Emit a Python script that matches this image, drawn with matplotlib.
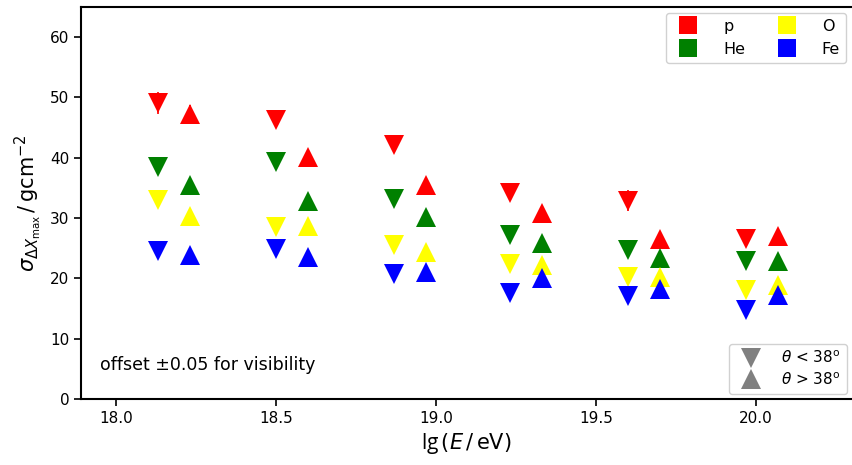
import numpy as np
import matplotlib
matplotlib.use("Agg")
import matplotlib.pyplot as plt
from matplotlib.lines import Line2D

# energy bins lg(E/eV), plotted with offset -0.05 (theta<38) / +0.05 (theta>38)
lgE = np.array([18.18, 18.55, 18.92, 19.28, 19.65, 20.02])
offset = 0.05

primaries = ["p", "He", "O", "Fe"]
colors = ["red", "green", "yellow", "blue"]

# sigma(Xmax) in g/cm^2, theta < 38 deg (down triangles)
sig_low = {
    "p":  [49.1, 46.2, 42.1, 34.1, 32.9, 26.6],
    "He": [38.5, 39.3, 33.1, 27.2, 24.7, 22.9],
    "O":  [33.0, 28.5, 25.5, 22.4, 20.3, 18.1],
    "Fe": [24.5, 24.9, 20.7, 17.6, 17.1, 14.8],
}
# theta > 38 deg (up triangles)
sig_high = {
    "p":  [47.2, 40.1, 35.4, 30.8, 26.5, 27.0],
    "He": [35.4, 32.8, 30.1, 25.8, 23.3, 22.8],
    "O":  [30.3, 28.7, 24.3, 22.2, 20.3, 18.9],
    "Fe": [23.9, 23.5, 21.0, 20.0, 18.2, 17.2],
}
# small statistical errors (mostly hidden behind markers)
err_low = {"p": [1.8, 1.2, 1.2, 1.2, 1.8, 1.2], "He": [1.0] * 6, "O": [1.0] * 6, "Fe": [1.0] * 6}
err_high = {"p": [1.6, 1.2, 1.2, 1.2, 1.2, 1.2], "He": [1.0] * 6, "O": [1.0] * 6, "Fe": [1.0] * 6}

fig = plt.figure(figsize=(8.52, 4.65), dpi=100)
ax = fig.add_axes([0.095, 0.142, 0.905, 0.843])

ms = 14
for prim, col in zip(primaries, colors):
    ax.errorbar(lgE - offset, sig_low[prim], yerr=err_low[prim], fmt="v", color=col,
                ms=ms, mew=0, elinewidth=1.2, capsize=0)
    ax.errorbar(lgE + offset, sig_high[prim], yerr=err_high[prim], fmt="^", color=col,
                ms=ms, mew=0, elinewidth=1.2, capsize=0)

ax.set_xlim(17.89, 20.30)
ax.set_ylim(0, 65)
ax.set_xticks([18.0, 18.5, 19.0, 19.5, 20.0])
ax.set_yticks([0, 10, 20, 30, 40, 50, 60])
ax.tick_params(labelsize=11, length=5, width=1.2)
ax.spines["right"].set_visible(False)
for s in ["left", "bottom", "top"]:
    ax.spines[s].set_linewidth(1.5)

ax.set_xlabel(r"lg$\,(E\,/\,\mathrm{eV})$", fontsize=15, family="Open Sans")
ax.set_ylabel(r"$\sigma_{\Delta X_\mathrm{max}}\,/\,\mathrm{gcm^{-2}}$", fontsize=15)

ax.text(0.025, 0.075, "offset \u00b10.05 for visibility", transform=ax.transAxes, fontsize=12.5)

handles = [Line2D([], [], ls="none", marker="s", ms=13, color=c, mew=0, label=p)
           for p, c in zip(primaries, colors)]
leg1 = ax.legend(handles=handles, ncol=2, loc="upper right", fontsize=11.5,
                 handletextpad=1.2, columnspacing=1.6, borderaxespad=0.35, framealpha=0.9)
ax.add_artist(leg1)

thandles = [Line2D([], [], ls="none", marker="v", ms=14, color="grey", mew=0,
                   label=r"$\theta$ < 38$^\mathrm{o}$"),
            Line2D([], [], ls="none", marker="^", ms=14, color="grey", mew=0,
                   label=r"$\theta$ > 38$^\mathrm{o}$")]
ax.legend(handles=thandles, loc="lower right", fontsize=11, handletextpad=1.0,
          borderaxespad=0.35, labelspacing=0.3, framealpha=0.9)

fig.savefig("out.png", dpi=100)
